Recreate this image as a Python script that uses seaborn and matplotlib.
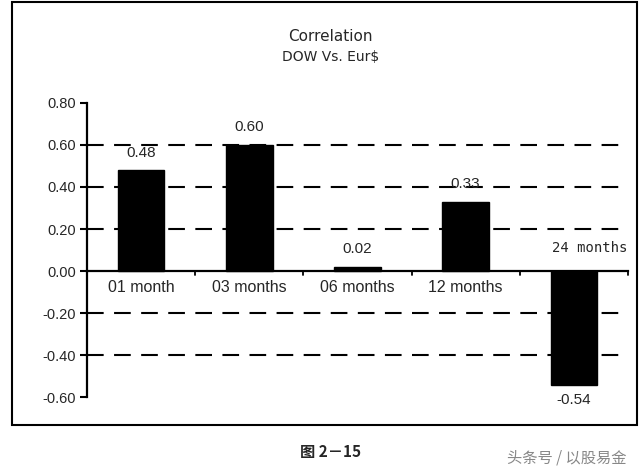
import matplotlib
matplotlib.use("Agg")
import matplotlib.pyplot as plt
import seaborn as sns
import pandas as pd
from matplotlib.patches import Rectangle

categories = ["01 month", "03 months", "06 months", "12 months", "24 months"]
values = [0.48, 0.60, 0.02, 0.33, -0.54]
yticks = [0.80, 0.60, 0.40, 0.20, 0.00, -0.20, -0.40, -0.60]
title_lines = ["Correlation", "DOW Vs. Eur$"]
caption = "图 2－15"
watermark = "头条号 / 以股易金"

sns.set_theme(style="white")
plt.rcParams['font.family'] = ['DejaVu Sans', 'Noto Sans CJK SC']

fig = plt.figure(figsize=(6.4, 4.74), dpi=100)
ax = fig.add_axes([0.136, 0.162, 0.845, 0.621])

df = pd.DataFrame({"cat": categories, "val": values})
sns.barplot(data=df, x="cat", y="val", color="black", width=0.43,
            saturation=1, ax=ax, edgecolor="black")

ax.set_ylim(-0.60, 0.80)
ax.set_xlim(-0.5, 4.5)
ax.set_yticks(yticks)
ax.set_yticklabels([f"{t:.2f}" for t in yticks], fontsize=10.5, family="Liberation Sans")
ax.tick_params(axis="y", direction="out", length=5, width=1.5, color="black", pad=3, left=True)
ax.set_xticks([])
ax.set_xlabel("")
ax.set_ylabel("")

for s in ["top", "right"]:
    ax.spines[s].set_visible(False)
ax.spines["left"].set_color("black")
ax.spines["left"].set_linewidth(1.6)
ax.spines["bottom"].set_position(("data", 0))
ax.spines["bottom"].set_color("black")
ax.spines["bottom"].set_linewidth(1.6)

# dashed gridlines
for g in [0.60, 0.40, 0.20, -0.20, -0.40]:
    ax.axhline(g, color="black", lw=1.5, ls=(0, (8, 5)), zorder=0)

# category boundary ticks on zero axis
for b in [0.5, 1.5, 2.5, 3.5, 4.5]:
    ax.plot([b, b], [0, -0.02], color="black", lw=1.3, clip_on=False)

# category labels
for i, c in enumerate(categories[:4]):
    ax.text(i, -0.08, c, ha="center", va="center", fontsize=11.5, family="Liberation Sans")
ax.text(4.5, 0.11, categories[4], ha="right", va="center", fontsize=10,
        family="DejaVu Sans Mono", clip_on=False)

# value labels
for i, v in enumerate(values):
    lbl = f"{v:.2f}"
    if v >= 0:
        ax.text(i, v + 0.05, lbl, ha="center", va="bottom", fontsize=11, family="Liberation Sans")
    else:
        ax.text(i, v - 0.04, lbl, ha="center", va="top", fontsize=11, family="Liberation Sans")

fig.text(0.516, 0.922, title_lines[0], ha="center", va="center", fontsize=11)
fig.text(0.516, 0.880, title_lines[1], ha="center", va="center", fontsize=10)

fig.patches.append(Rectangle((12 / 640, 1 - 425 / 474), 625 / 640, 423 / 474,
                             transform=fig.transFigure, fill=False,
                             edgecolor="black", lw=1.5))

fig.text(0.516, 0.046, caption, ha="center", va="center", fontsize=11,
         fontweight="bold", family=["Noto Sans CJK SC", "DejaVu Sans"])
fig.text(0.885, 0.033, watermark, ha="center", va="center", fontsize=11,
         color="#888888", family=["Noto Sans CJK SC", "DejaVu Sans"])

fig.savefig("out.png", dpi=100)
